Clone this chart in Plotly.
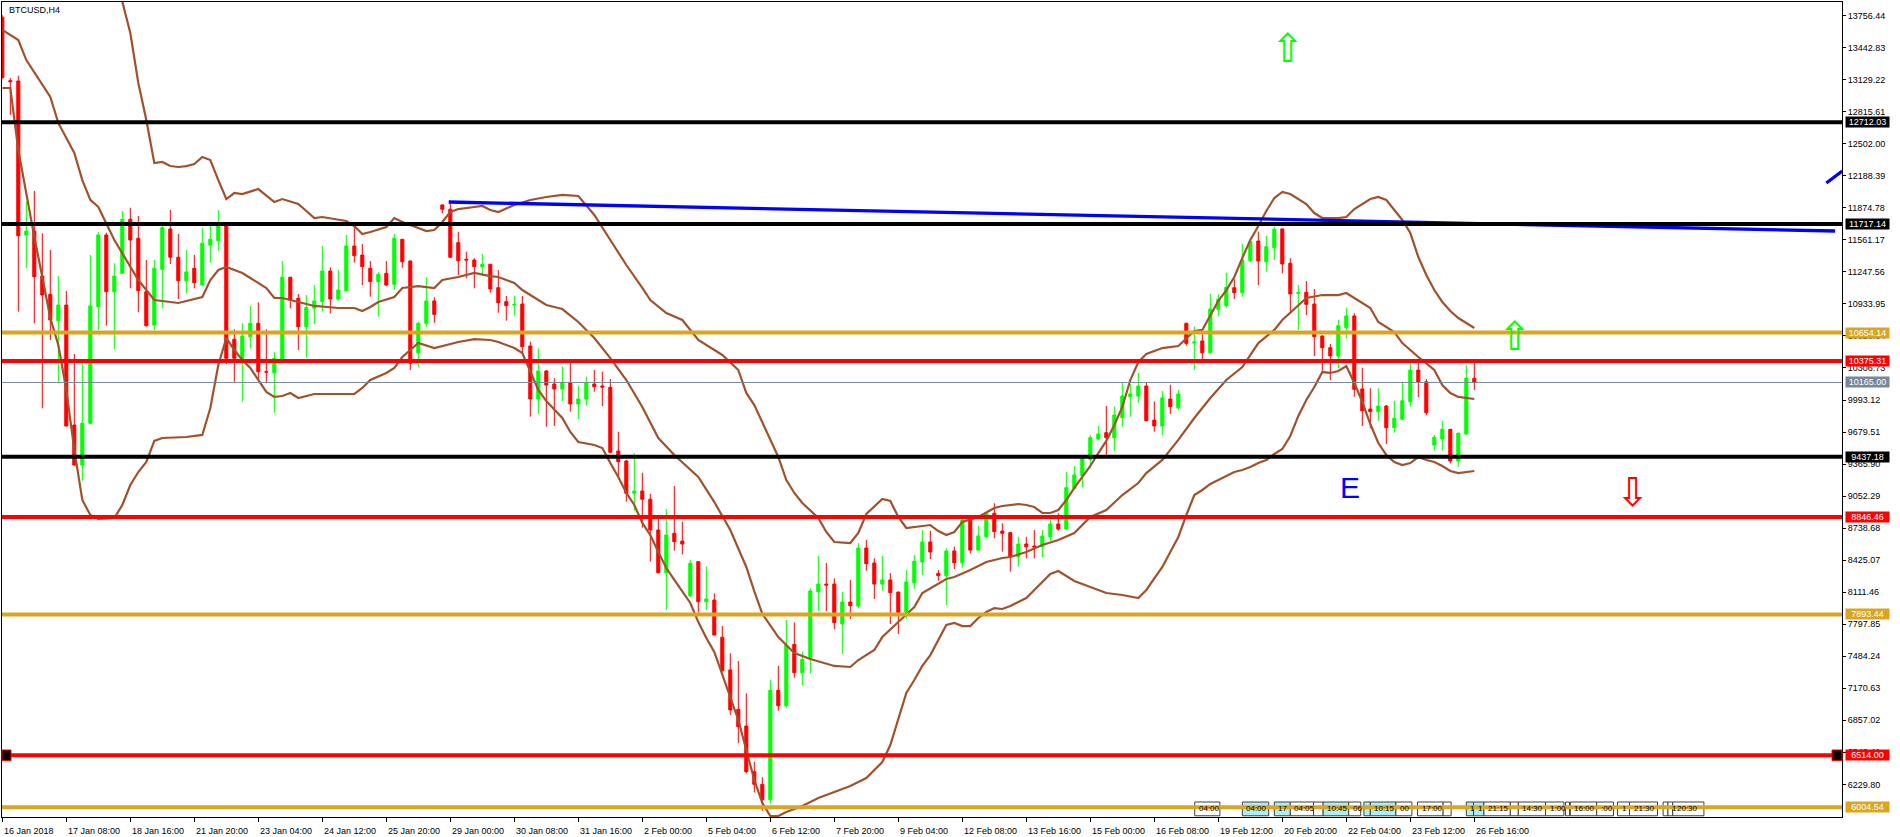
import plotly.graph_objects as go

# ---------------- data (BTCUSD, H4) ----------------
opens = [13740,13120,13117,11609,11648,11207,11028,10770,10923,9748,
         9357,9765,10907,11609,11054,11234,11763,11577,11054,10728,
         11273,11668,11391,11161,11283,11119,11511,11553,11723,10588,
         10402,10613,10744,10270,10260,10385,11195,10989,10711,10891,
         10956,11256,10982,11063,11501,11413,11283,11152,11234,11126,
         11567,11354,10456,10744,10963,11903,11861,11534,11371,11364,
         11299,11322,11093,10956,10923,10933,10522,10003,10277,10150,
         10101,10163,9954,10003,10150,10130,10117,9494,9396,9080,
         9102,9021,8720,8302,8688,8612,8074,8410,8018,8035,
         7670,7350,6964,6801,6354,6230,6080,7150,7000,7601,
         7323,7464,8116,8191,8191,7800,8015,7976,8544,8397,
         8191,8231,8113,7914,8204,8407,8603,8296,8273,8515,
         8400,8818,8524,8654,8884,8710,8694,8459,8583,8563,
         8557,8654,8779,8730,9128,9252,9412,9611,9673,9624,
         9820,10026,10032,10130,9797,9739,10003,9918,10744,10551,
         10571,10456,10881,10917,11093,11044,11357,11550,11347,11485,
         11668,11332,11038,11048,10933,10620,10505,10424,10701,10816,
         10101,9905,9879,9934,9722,9804,9977,10287,10172,9553,
         9611,9706,9396,9660,10206]
highs = [13760,13146,13169,11935,12040,11626,11462,11207,11060,10444,
         10359,11413,11641,11631,11332,11844,11876,11795,11364,11364,
         11700,11854,11619,11462,11413,11680,11700,11854,11730,10686,
         10744,10914,10950,10686,10466,11354,11200,11031,11021,11119,
         11501,11293,11266,11609,11697,11521,11354,11244,11354,11619,
         11570,11360,10760,11195,10999,11910,11919,11641,11445,11381,
         11423,11325,11266,11012,11012,11012,10564,10499,10287,10206,
         10319,10359,10130,10222,10287,10270,10199,9683,9406,9471,
         9281,9073,8835,8926,9151,8802,8426,8417,8361,8100,
         7780,7513,7438,7121,6450,6300,7250,7390,7839,7816,
         7529,8149,8466,8397,8247,8113,8231,8593,8622,8443,
         8466,8299,8115,8326,8475,8720,8713,8329,8541,8557,
         8835,8820,8760,8884,8982,8786,8700,8654,8654,8720,
         8720,8825,8884,9288,9347,9445,9650,9739,9934,9928,
         10163,10150,10260,10163,9977,10081,10143,10091,10750,10711,
         10669,11031,11031,11240,11175,11521,11567,11641,11599,11690,
         11672,11381,11119,11158,11080,10625,10542,10777,10897,10842,
         10310,10108,10108,9944,9986,10172,10359,10359,10199,9650,
         9791,9710,9677,10336,10359]
lows = [13140,12784,10858,11283,10744,9912,10581,10172,9732,9350,
        9203,9760,10679,10721,10490,11230,11087,10852,10711,10679,
        10891,11325,10982,11038,11087,11115,11338,11455,10346,10172,
        9977,10499,10189,10157,9869,10380,10891,10483,10407,10735,
        10858,10842,10966,11060,11338,11119,11005,10809,11109,11070,
        11289,10287,10319,10711,10750,11821,11385,11217,11185,11087,
        11210,11044,10848,10770,10819,10450,9830,9856,9732,9739,
        9983,9879,9807,9937,10075,9934,9471,9227,8997,8909,
        8743,8410,8296,7937,8518,8482,8070,7911,7937,7690,
        7333,6909,6632,6338,6150,5970,6040,6950,6980,7274,
        7200,7317,7927,7927,7748,7506,7849,7959,8322,8045,
        8126,7800,7702,7849,8143,8280,8436,8224,7986,8338,
        8351,8492,8520,8639,8639,8508,8312,8361,8443,8443,
        8453,8612,8713,8725,9125,9138,9324,9602,9445,9494,
        9732,9830,9967,9785,9683,9650,9856,9895,10525,10287,
        10395,10450,10816,10897,10982,11005,11345,11119,11250,11364,
        11234,10858,10679,10826,10424,10280,10189,10304,10597,10026,
        9739,9716,9791,9562,9673,9800,9928,10020,9846,9497,
        9497,9373,9340,9655,10091]
closes = [13150,13110,11602,11648,11201,11021,10777,10923,9739,9357,
          9765,10914,11609,11054,11207,11763,11560,11063,10721,11283,
          11680,11391,11161,11247,11142,11528,11567,11700,10402,10402,
          10620,10744,10270,10267,10402,11195,10972,10711,10897,10963,
          11256,10982,11070,11501,11406,11299,11152,11224,11119,11577,
          11347,10353,10744,10963,10832,11861,11391,11357,11364,11299,
          11322,11080,10946,10917,10929,10515,10003,10277,10140,10101,
          10167,9954,10003,10163,10124,10120,9481,9389,9080,9102,
          9021,8720,8302,8671,8606,8583,8394,8018,8045,7692,
          7343,6958,6794,6354,6230,6080,7150,7000,7594,7323,
          7454,8123,8191,8181,7813,8015,7979,8544,8390,8191,
          8231,8106,7914,8211,8414,8603,8505,8273,8515,8400,
          8818,8524,8661,8880,8704,8688,8459,8583,8557,8554,
          8661,8779,8730,9134,9259,9418,9624,9660,9624,9846,
          10032,10052,10130,9791,9739,10013,9928,10052,10548,10561,
          10456,10884,10979,11097,11044,11364,11543,11354,11494,11665,
          11325,11031,11044,10930,10613,10505,10424,10721,10816,10098,
          9888,9879,9934,9722,9814,9986,10287,10172,9869,9628,
          9706,9396,9667,10206,10165]

# Bollinger bands (bar index, price)
ub_idx = [14,15,16,17,18,19,20,21,22,23,24,25,26,27,28,29,30,32,34,35,37,38,39,40,43,44,45,46,48,49,50,52,53,54,55,56,57,59,60,61,62,64,66,68,70,72,74,76,78,80,81,83,85,87,90,92,93,94,95,97,98,99,100,102,103,104,106,107,108,109,110,111,112,113,115,116,117,118,119,120,122,124,125,126,127,128,129,130,131,132,133,134,135,136,137,138,139,140,141,142,143,145,147,148,149,150,151,152,153,154,155,156,157,158,159,160,161,162,163,164,165,167,168,169,170,171,172,173,174,175,176,177,178,179,180,181,182,183,184]
ub_val = [14200,13900,13587,13097,12735,12314,12324,12284,12275,12284,12304,12373,12343,12147,11961,12020,12010,12059,11932,11961,11912,11844,11775,11785,11746,11697,11619,11638,11687,11775,11736,11677,11648,11658,11736,11834,11863,11883,11893,11854,11834,11903,11952,11981,12001,11991,11805,11560,11315,11090,10972,10845,10777,10581,10434,10287,10062,9944,9778,9435,9210,9083,8985,8838,8701,8603,8593,8691,8877,8955,9024,9004,8848,8740,8759,8769,8710,8671,8701,8799,8848,8936,8955,8965,8975,8965,8945,8887,8887,8916,9014,9132,9239,9347,9474,9592,9748,9925,10189,10365,10444,10502,10522,10600,10669,10679,10816,10963,11070,11198,11384,11560,11697,11844,11971,12030,12010,11961,11912,11824,11775,11775,11785,11863,11912,11961,11981,11952,11854,11756,11628,11393,11217,11070,10953,10865,10796,10747,10698]

mb_idx = [0,2,3,6,7,9,10,11,12,14,17,19,22,25,26,27,28,30,31,33,34,35,37,39,42,44,45,46,47,49,50,52,54,55,57,59,61,62,64,65,67,68,70,72,74,76,78,80,82,84,87,89,91,93,94,95,97,99,101,104,106,107,109,110,112,114,115,118,119,121,123,125,126,128,130,132,134,136,138,140,142,143,145,147,149,151,153,155,157,159,160,162,163,165,167,168,169,171,172,174,175,177,179,180,181,182,184]
mb_val = [13616,13518,13322,12960,12706,12412,12147,11952,11883,11560,11168,10972,10943,11002,11168,11266,11296,11237,11188,11090,10992,10992,10953,10914,10894,10894,10865,10904,10953,11002,11090,11109,11090,11168,11198,11237,11207,11198,11139,11070,10972,10923,10884,10757,10600,10404,10189,9925,9621,9455,9239,8994,8720,8358,8120,7900,7672,7516,7457,7389,7379,7447,7545,7672,7819,7966,8103,8240,8260,8329,8407,8446,8456,8505,8573,8622,8691,8848,8916,9063,9180,9278,9406,9602,9817,10013,10189,10316,10551,10679,10777,10914,10992,11021,11021,11041,10992,10894,10757,10659,10551,10414,10287,10140,10062,10023,10003]

lb_idx = [0,1,2,3,4,5,6,7,8,9,10,11,12,14,15,16,17,18,19,20,23,25,26,27,28,29,30,31,32,33,34,35,36,37,39,44,45,46,48,49,50,51,52,54,57,59,61,62,64,65,66,67,68,70,71,72,74,75,76,77,78,79,80,81,82,83,84,85,86,87,88,89,90,91,92,93,94,95,96,97,98,100,102,104,106,108,110,111,112,113,114,115,116,117,118,119,120,121,122,123,124,125,126,127,128,129,130,131,132,133,134,136,138,140,142,143,144,145,146,147,148,149,150,151,152,153,154,155,156,157,158,159,160,161,162,163,164,165,166,167,168,169,170,171,172,173,174,175,176,177,178,179,180,181,182,184]
lb_val = [13048,13048,12441,12001,11589,11198,10796,10532,10091,9504,9014,8867,8828,8838,8965,9161,9288,9386,9592,9621,9631,9651,9915,10336,10600,10483,10385,10307,10189,10072,10023,10032,10062,10013,10052,10052,10111,10189,10258,10307,10414,10483,10551,10502,10561,10590,10581,10561,10502,10453,10267,10091,9983,9817,9680,9582,9553,9523,9376,9239,9083,8965,8789,8671,8505,8348,8231,8113,8006,7819,7663,7526,7300,7095,6860,6566,6272,6047,5920,5920,5959,6018,6096,6155,6213,6292,6448,6615,6879,7124,7251,7389,7496,7643,7790,7810,7780,7780,7859,7917,7956,7947,7976,8015,8054,8133,8211,8290,8319,8270,8221,8162,8103,8084,8054,8133,8250,8358,8505,8652,8867,9063,9112,9171,9210,9249,9288,9308,9337,9376,9406,9465,9513,9641,9837,9993,10121,10267,10258,10277,10326,10160,9974,9758,9572,9455,9386,9357,9376,9435,9406,9386,9347,9298,9278,9298]

# horizontal levels
levels = [12712.03, 11717.14, 10654.14, 10375.31, 10165.00, 9437.18, 8846.46, 7893.44, 6514.00, 6004.54]
level_kind = ["black", "black", "gold", "red", "bid", "black", "red", "gold", "red", "gold"]

# trend lines (bar index, price)
trend1_idx = [55.8, 229.1]
trend1_val = [11932, 11648]
trend2_idx = [228.0, 230.0]
trend2_val = [12118, 12236]

# arrow / text objects (bar index, price)
obj_idx = [160.7, 189.1, 203.8, 168.4]
obj_val = [13440, 10620, 9092, 9141]
obj_text = ["\u21e7", "\u21e7", "\u21e9", "E"]
obj_kind = ["up", "up", "down", "text"]

# economic-calendar event flags along the bottom (start bar, end bar, label, kind)
ev_start = [149.05, 155.0, 159.0, 161.0, 163.9, 165.1, 168.3, 170.2, 171.0, 174.2, 176.9, 180.1,
            183.0, 183.9, 185.2, 188.5, 189.5, 192.9, 195.4, 196.0, 199.3, 201.9, 203.4, 207.6, 208.2, 208.8]
ev_end = [152.2, 158.3, 161.0, 163.9, 165.1, 168.3, 169.8, 171.0, 174.2, 176.2, 180.1, 181.1,
          183.9, 185.2, 188.5, 189.5, 192.9, 195.2, 195.9, 199.3, 201.4, 203.4, 206.9, 208.2, 208.8, 212.7]
ev_text = ["04:00", "04:00", "17", "04:05", "", "10:45", "06", "", "10:15", "00", "17:00", "",
           "1", "1", "21:15", "", "14:30", "1:00", "", "16:00", ":00", "1", "21:30", "", "1", "20:30"]
ev_kind = ["w", "c", "c", "w", "w", "c", "w", "c", "c", "w", "w", "w",
           "c", "c", "w", "w", "w", "w", "w", "w", "w", "w", "w", "w", "w", "w"]

ytick_vals = [13756.44, 13442.83, 13129.22, 12815.61, 12502.00, 12188.39, 11874.78, 11561.17,
              11247.56, 10933.95, 10620.34, 10306.73, 9993.12, 9679.51, 9365.90, 9052.29,
              8738.68, 8425.07, 8111.46, 7797.85, 7484.24, 7170.63, 6857.02, 6543.41, 6229.80]
xtick_labels = ["16 Jan 2018", "17 Jan 08:00", "18 Jan 16:00", "21 Jan 20:00", "23 Jan 04:00",
                "24 Jan 12:00", "25 Jan 20:00", "29 Jan 00:00", "30 Jan 08:00", "31 Jan 16:00",
                "2 Feb 00:00", "5 Feb 04:00", "6 Feb 12:00", "7 Feb 20:00", "9 Feb 04:00",
                "12 Feb 08:00", "13 Feb 16:00", "15 Feb 00:00", "16 Feb 08:00", "19 Feb 12:00",
                "20 Feb 20:00", "22 Feb 04:00", "23 Feb 12:00", "26 Feb 16:00"]
xtick_idx = list(range(0, 8 * len(xtick_labels), 8))

# ---------------- styles ----------------
GREEN = "#00FF00"
RED = "#FF0000"
GOLD = "#DAA520"
BROWN = "#A0522D"
BLUE = "#0000FF"
BIDGRAY = "#778899"
FONT = "Liberation Sans"
kind_color = {"black": "#000000", "gold": GOLD, "red": RED, "bid": BIDGRAY}
kind_width = {"black": 4, "gold": 4, "red": 4, "bid": 1}
ev_fill = {"w": "#FFFFFF", "c": "#AFEEEE"}

fig = go.Figure()

fig.add_trace(go.Candlestick(
    x=list(range(len(opens))), open=opens, high=highs, low=lows, close=closes,
    increasing=dict(line=dict(color=GREEN, width=1), fillcolor=GREEN),
    decreasing=dict(line=dict(color=RED, width=1), fillcolor=RED),
    whiskerwidth=0, hoverinfo="skip", showlegend=False))

for bi, bv in [(ub_idx, ub_val), (mb_idx, mb_val), (lb_idx, lb_val)]:
    fig.add_trace(go.Scatter(x=bi, y=bv, mode="lines", line=dict(color=BROWN, width=2.2),
                             hoverinfo="skip", showlegend=False))

for ti, tv in [(trend1_idx, trend1_val), (trend2_idx, trend2_val)]:
    fig.add_trace(go.Scatter(x=ti, y=tv, mode="lines", line=dict(color=BLUE, width=3.3),
                             hoverinfo="skip", showlegend=False))

shapes = []
annotations = []

# calendar event flags (drawn beneath the level lines)
for s, e, t, k in zip(ev_start, ev_end, ev_text, ev_kind):
    shapes.append(dict(type="rect", xref="x", yref="paper", x0=s, x1=e, y0=0.0015, y1=0.0184,
                       fillcolor=ev_fill[k], line=dict(color="#404040", width=1), layer="above"))
    if t:
        annotations.append(dict(xref="x", yref="paper", x=s + 0.25, y=0.0100, xanchor="left",
                                yanchor="middle", text=t, showarrow=False,
                                font=dict(family=FONT, size=8, color="black")))

for v, k in zip(levels, level_kind):
    shapes.append(dict(type="line", xref="paper", yref="y", x0=0, x1=1, y0=v, y1=v,
                       line=dict(color=kind_color[k], width=kind_width[k]), layer="above"))
    annotations.append(dict(xref="paper", yref="y", x=1.0016, y=v, xanchor="left", yanchor="middle",
                            text=f"{v:.2f}", showarrow=False, bgcolor=kind_color[k],
                            font=dict(family=FONT, size=9, color="white"),
                            width=43, height=10, borderpad=0))

# small anchor squares on the 6514 line
sq = levels[8]
for x0, x1 in [(0.0, 0.0049), (0.9946, 1.0)]:
    shapes.append(dict(type="rect", xref="paper", yref="y", x0=x0, x1=x1, y0=sq - 52, y1=sq + 52,
                       fillcolor="black", line=dict(color=RED, width=1), layer="above"))

for xi, yv, t, k in zip(obj_idx, obj_val, obj_text, obj_kind):
    if k == "text":
        annotations.append(dict(xref="x", yref="y", x=xi, y=yv, text=t, showarrow=False,
                                font=dict(family=FONT, size=30, color=BLUE)))
    else:
        annotations.append(dict(xref="x", yref="y", x=xi, y=yv, text=t, showarrow=False,
                                font=dict(family="DejaVu Sans", size=40,
                                          color=GREEN if k == "up" else RED)))

for xi, lab in zip(xtick_idx, xtick_labels):
    annotations.append(dict(xref="x", yref="paper", x=xi, y=0, yshift=-7, xanchor="left", yanchor="top",
                            text=lab, showarrow=False, font=dict(family=FONT, size=9, color="black")))

annotations.append(dict(xref="paper", yref="paper", x=0.0027, y=0.990, xanchor="left", yanchor="middle",
                        text="BTCUSD,H4", showarrow=False, font=dict(family=FONT, size=9, color="black")))

fig.update_layout(
    width=1900, height=837,
    margin=dict(l=2, r=58, t=2, b=20),
    paper_bgcolor="white", plot_bgcolor="white",
    showlegend=False, boxgap=0.45,
    shapes=shapes, annotations=annotations,
    xaxis=dict(range=[-0.04, 229.96], showgrid=False, zeroline=False, showline=True, linecolor="black",
               linewidth=1, mirror=True, ticks="outside", ticklen=4, tickcolor="black",
               tickvals=xtick_idx, showticklabels=False, rangeslider=dict(visible=False), fixedrange=True),
    yaxis=dict(side="right", range=[5910.1, 13890.3], showgrid=False, zeroline=False, showline=True,
               linecolor="black", linewidth=1, mirror=True, ticks="outside", ticklen=3, tickcolor="black",
               tickvals=ytick_vals, ticktext=[f"{v:.2f}" for v in ytick_vals],
               tickfont=dict(family=FONT, size=9, color="black"), fixedrange=True),
)

fig.write_html("out.html", config={"displayModeBar": False},
               post_script="document.body.style.margin='0px';")
